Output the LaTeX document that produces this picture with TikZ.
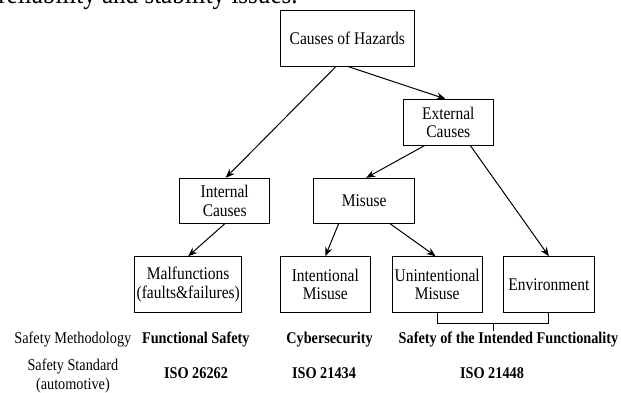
\documentclass[tikz,border=0pt]{standalone}
\usepackage{fontspec}
\setmainfont{Liberation Serif}[FakeStretch=0.87]
\usetikzlibrary{shapes,arrows.meta}

\begin{document}
\begin{tikzpicture}[x=0.5pt,y=-0.5pt,
        box/.style={draw, line width=0.5pt, align=center, inner sep=0pt,
                font=\fontsize{8.9}{9.2}\selectfont},
        link/.style={line width=0.5pt, -{Stealth[length=4.5pt,width=3.6pt]}},
        lbl/.style={font=\fontsize{8.2}{9.2}\selectfont, align=center}]
        \useasboundingbox (0,0) rectangle (621,392);
        % Clipped line of text above the figure
        \node [anchor=base east, inner sep=0pt, font=\fontsize{14.4}{16}\selectfont] (caption) at (298,3) {reliability and stability issues.};
        % Draw boxes
        \node [box, minimum width=67pt, minimum height=28pt] (hazards) at (347.3,38.2) {Causes of Hazards};
        \node [box, minimum width=44.7pt, minimum height=22.8pt] (external) at (448.3,122.2) {External\\Causes};
        \node [box, minimum width=45pt, minimum height=22.5pt] (internal) at (224.7,200.8) {Internal\\Causes};
        \node [box, minimum width=50.5pt, minimum height=22.5pt] (misuse) at (364.2,200.8) {Misuse};
        \node [box, minimum width=53.5pt, minimum height=28pt] (malfunc) at (188.2,284.7) {Malfunctions\\(faults\&failures)};
        \node [box, minimum width=45pt, minimum height=28pt] (intent) at (325.3,284.7) {Intentional\\Misuse};
        \node [box, minimum width=45.2pt, minimum height=28pt] (unintent) at (437.2,284.7) {Unintentional\\Misuse};
        \node [box, minimum width=45.1pt, minimum height=28pt] (environ) at (548.9,284.7) {Environment};
        % Draw arrows
        \draw [link] ([xshift=-5.75pt]hazards.south) -- ([xshift=0.5pt]internal.north);
        \draw [link] ([xshift=0.6pt]hazards.south) -- ([xshift=-1.4pt]external.north);
        \draw [link] ([xshift=-11.8pt]external.south) -- ([xshift=1pt]misuse.north);
        \draw [link] ([xshift=11pt]external.south) -- (environ.north);
        \draw [link] (internal.south) -- (malfunc.north);
        \draw [link] ([xshift=-12.8pt]misuse.south) -- (intent.north);
        \draw [link] ([xshift=13pt]misuse.south) -- ([xshift=-0.8pt]unintent.north);
        % Bracket under the last two boxes
        \draw [line width=0.5pt] (unintent.south) -- ++(0,10) -| (environ.south);
        \coordinate (bracket) at (493,322.7);
        \draw [line width=0.5pt] (bracket) -- ++(0,8);
        % Rows of labels
        \node [lbl] (methodology) at (72.9,339.3) {Safety Methodology};
        \node [lbl, font=\fontsize{8.2}{9.2}\selectfont\bfseries] (funcsafety) at (195.8,339.3) {Functional Safety};
        \node [lbl, font=\fontsize{8.2}{9.2}\selectfont\bfseries] (cyber) at (329.5,339.3) {Cybersecurity};
        \node [lbl, font=\fontsize{8.2}{9.2}\selectfont\bfseries] (sotif) at (508.5,339.3) {Safety of the Intended Functionality};
        \node [lbl] (standard) at (72.9,375.8) {Safety Standard\\(automotive)};
        \node [lbl, font=\fontsize{8.2}{9.2}\selectfont\bfseries] (iso26262) at (196,372.7) {ISO 26262};
        \node [lbl, font=\fontsize{8.2}{9.2}\selectfont\bfseries] (iso21434) at (324,372.7) {ISO 21434};
        \node [lbl, font=\fontsize{8.2}{9.2}\selectfont\bfseries] (iso21448) at (492,372.7) {ISO 21448};
\end{tikzpicture}
\end{document}
